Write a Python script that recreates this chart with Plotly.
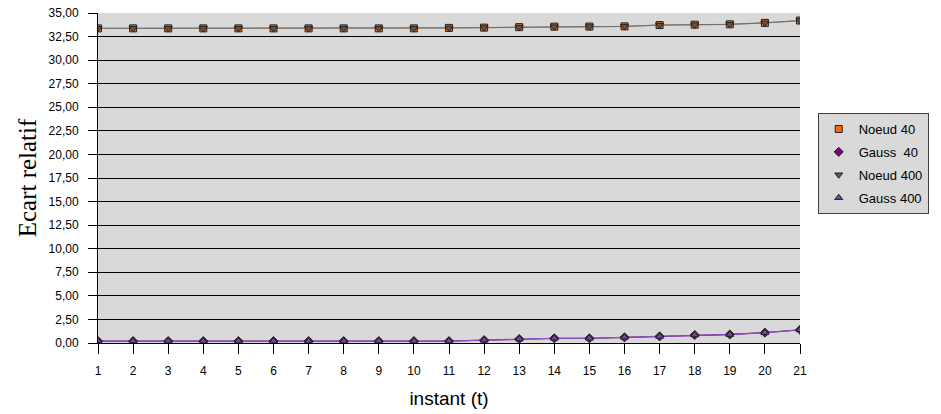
import plotly.graph_objects as go

instants = list(range(1, 22))
noeud_40 = [33.37]*10 + [33.42, 33.45, 33.50, 33.55, 33.56, 33.58, 33.72, 33.76, 33.80, 33.95, 34.20]
gauss_40 = [0.20]*11 + [0.30, 0.42, 0.50, 0.50, 0.60, 0.70, 0.85, 0.90, 1.10, 1.40]
noeud_400 = [33.37]*10 + [33.42, 33.45, 33.50, 33.55, 33.56, 33.58, 33.72, 33.76, 33.80, 33.95, 34.20]
gauss_400 = [0.20]*11 + [0.30, 0.42, 0.50, 0.50, 0.60, 0.70, 0.85, 0.90, 1.10, 1.40]
y_ticks = [i*2.5 for i in range(15)]

series = [
    ("Noeud 40", noeud_40, "#A87E58", 1.3, "square", 7, "#FF6600"),
    ("Gauss  40", gauss_40, "#800080", 1.3, "diamond", 7, "#800080"),
    ("Noeud 400", noeud_400, "#707070", 1.0, "triangle-down", 7, "#5A5A5A"),
    ("Gauss 400", gauss_400, "#8A5CC8", 1.0, "triangle-up", 7, "#6A4CA0"),
]

fig = go.Figure()
# lines (not in legend)
for name, vals, lc, lw, sym, sz, mc in series:
    fig.add_trace(go.Scatter(x=instants, y=vals, mode="lines", showlegend=False,
                             line=dict(color=lc, width=lw), hoverinfo="skip"))
# markers (legend)
for name, vals, lc, lw, sym, sz, mc in series:
    fig.add_trace(go.Scatter(x=instants, y=vals, name=name, mode="markers", legendgroup=name,
                             marker=dict(symbol=sym, size=sz, color=mc,
                                         line=dict(color="#222222", width=1))))

fig.update_layout(
    width=941, height=414,
    margin=dict(l=98, r=141, t=13, b=71, autoexpand=False),
    paper_bgcolor="white", plot_bgcolor="#D9D9D9",
    separators=", ",
    font=dict(family="Liberation Sans, Arial", size=12, color="black"),
    showlegend=True,
    legend=dict(xref="container", yref="container", x=0.869, y=0.727,
                xanchor="left", yanchor="top",
                bordercolor="#404040", borderwidth=1, bgcolor="#D9D9D9",
                font=dict(size=13), tracegroupgap=3, itemwidth=30, itemsizing="trace"),
    xaxis=dict(range=[1, 21], tickmode="array", tickvals=instants, automargin=False,
               ticks="outside", ticklen=10, tickcolor="black", ticklabelstandoff=7,
               showgrid=False, showline=True, linecolor="black", linewidth=1,
               zeroline=False,
               title=dict(text="instant (t)", font=dict(size=19), standoff=14)),
    yaxis=dict(range=[0, 35], tickmode="array", tickvals=y_ticks, tickformat=".2f",
               automargin=False, ticklabelstandoff=7,
               ticks="outside", ticklen=9, tickcolor="black",
               showgrid=True, gridcolor="black", gridwidth=1,
               showline=True, linecolor="black", linewidth=1, zeroline=False,
               title=dict(text="Ecart relatif", font=dict(family="Liberation Serif, Times New Roman", size=25), standoff=4)),
)
fig.write_html("out.html", config={"displayModeBar": False},
               post_script="document.body.style.margin='0';document.body.style.overflow='hidden';")
